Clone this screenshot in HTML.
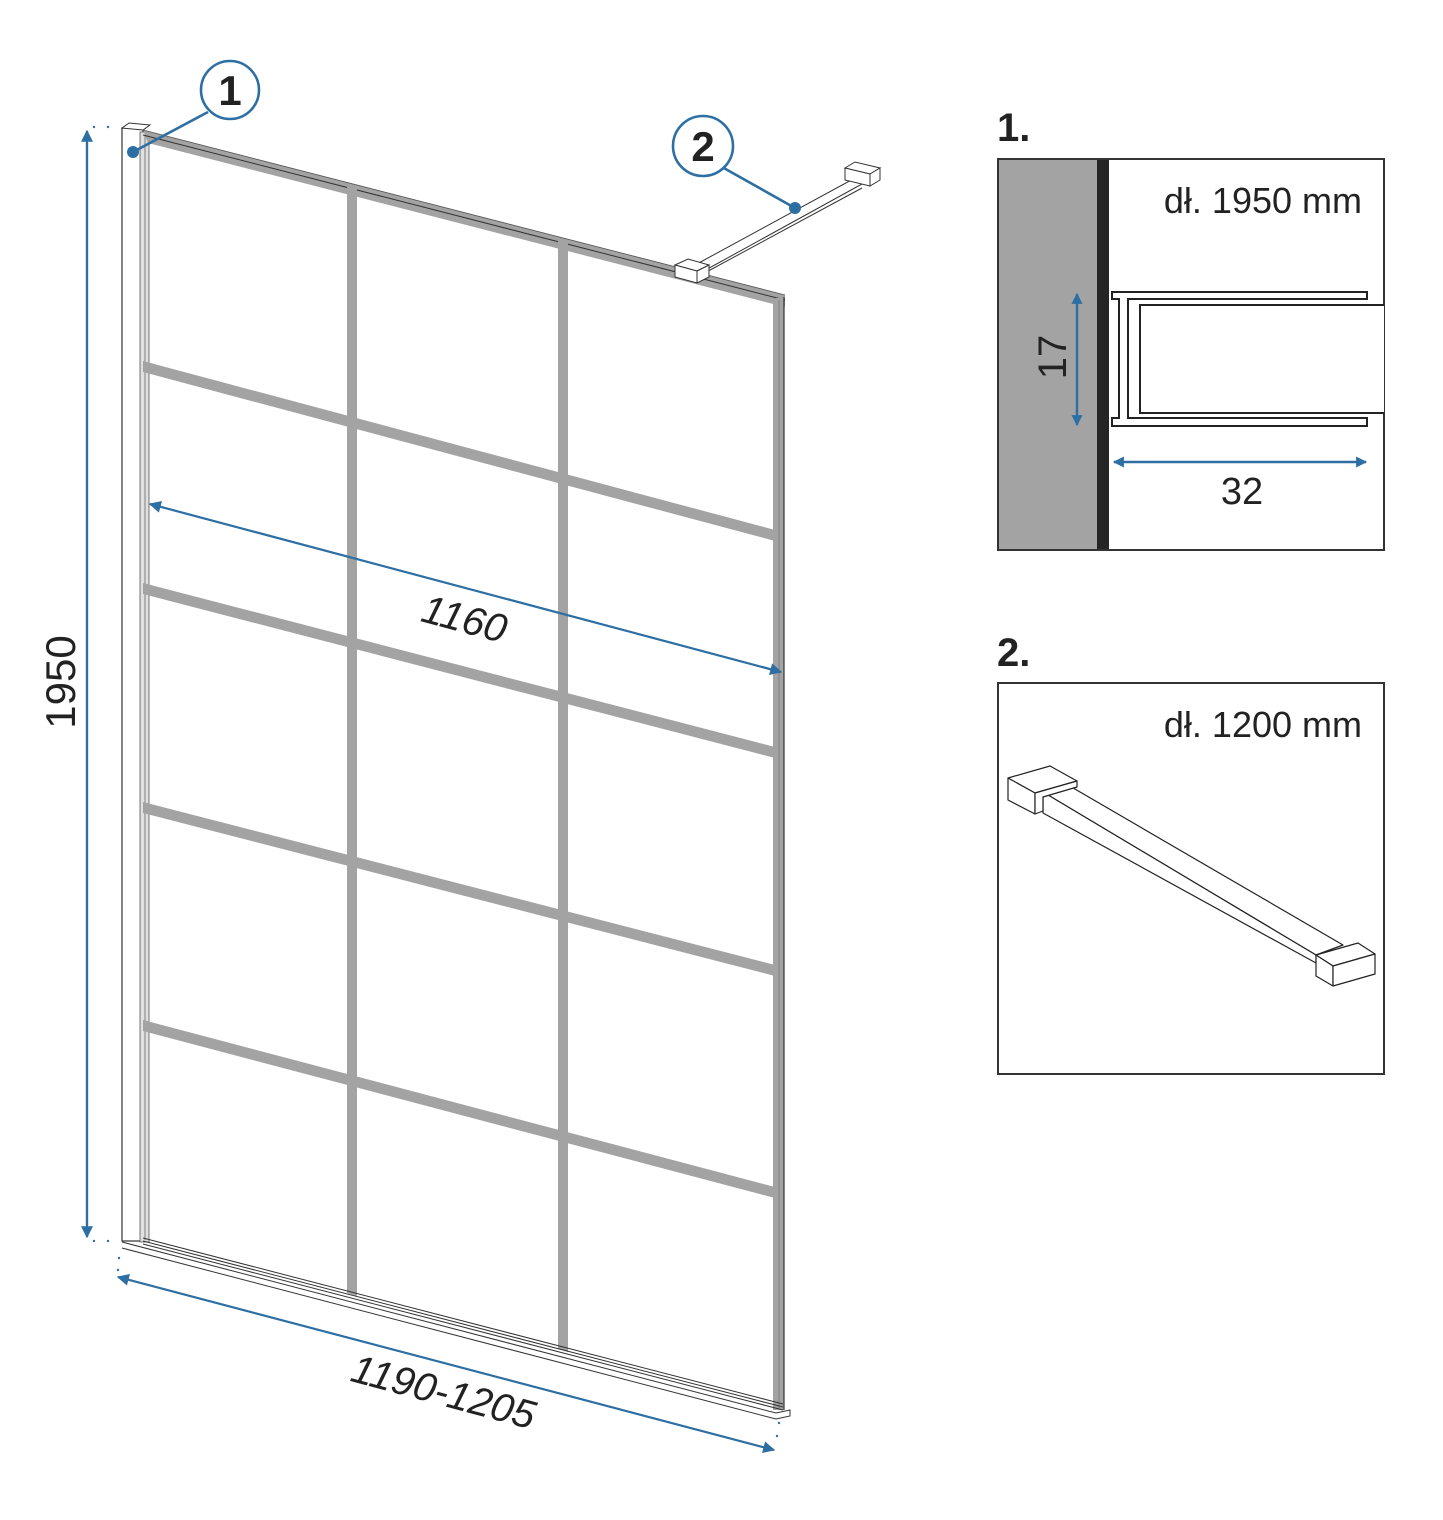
<!DOCTYPE html>
<html><head><meta charset="utf-8"><style>
html,body{margin:0;padding:0;background:#fff;}
svg{display:block;}
text{font-family:"Liberation Sans",sans-serif;fill:#222;}
</style></head><body>
<svg width="1443" height="1520" viewBox="0 0 1443 1520" xmlns="http://www.w3.org/2000/svg">
<defs>
<marker id="ah" viewBox="0 0 10 10" refX="9" refY="5" markerWidth="16" markerHeight="11" orient="auto-start-reverse" markerUnits="userSpaceOnUse">
<path d="M0,0 L10,5 L0,10 z" fill="#2e6fa3"/>
</marker>
<marker id="ah2" viewBox="0 0 10 10" refX="9" refY="5" markerWidth="22" markerHeight="12" orient="auto-start-reverse" markerUnits="userSpaceOnUse">
<path d="M0,0 L10,5 L0,10 z" fill="#2e6fa3"/>
</marker>
</defs>

<!-- wall profile -->
<rect x="122" y="128" width="21" height="1113" fill="#fff" stroke="#333" stroke-width="1.2"/>
<polygon points="122,128 129,123 150,125 143,130" fill="#fff" stroke="#333" stroke-width="1"/>
<rect x="140" y="132" width="9" height="1110" fill="#e0e0e0" stroke="#555" stroke-width="0.8"/>
<line x1="145" y1="135" x2="145" y2="1240" stroke="#666" stroke-width="0.8"/>

<!-- top frame -->
<polygon points="143,130 785,295 785,307 148,143" fill="#a3a3a3"/>
<line x1="143" y1="135" x2="785" y2="300" stroke="#333" stroke-width="1"/>
<line x1="143" y1="130" x2="785" y2="295" stroke="#555" stroke-width="0.8"/>
<!-- right frame -->
<rect x="773" y="298" width="11" height="1112" fill="#a3a3a3"/>
<line x1="784" y1="297" x2="784" y2="1410" stroke="#333" stroke-width="1.2"/>
<line x1="779" y1="300" x2="779" y2="1408" stroke="#777" stroke-width="0.8"/>

<!-- vertical bars -->
<polygon points="347,184 357,187 357,1296 347,1293" fill="#a3a3a3"/>
<polygon points="558,239 568,241 568,1352 558,1349" fill="#a3a3a3"/>

<!-- horizontal bars -->
<g fill="#a3a3a3">
<polygon points="143,361 775,530 775,541 143,372"/>
<polygon points="143,583 775,747 775,758 143,594"/>
<polygon points="143,802 775,965 775,976 143,813"/>
<polygon points="143,1020 775,1187 775,1198 143,1031"/>
</g>

<!-- bottom track -->
<g stroke="#333" stroke-width="1" fill="none">
<line x1="143" y1="1238" x2="783" y2="1404"/>
<line x1="143" y1="1241" x2="783" y2="1407"/>
<line x1="143" y1="1244" x2="783" y2="1410"/>
<line x1="122" y1="1242" x2="776" y2="1413"/>
<line x1="122" y1="1248" x2="776" y2="1419"/>
<polyline points="776,1413 790,1410 790,1416 776,1419"/>
</g>

<!-- stabilizer bar on panel -->
<g stroke="#333" stroke-width="1" fill="#fff">
<polygon points="695,265 855,178 862,184 702,272"/>
<line x1="699" y1="276" x2="862" y2="188"/>
<polygon points="845,168 855,162 880,168 870,174"/>
<polygon points="845,168 870,174 870,186 845,180"/>
<polygon points="870,174 880,168 880,180 870,186"/>
<polygon points="675,265 688,259 709,265 697,271"/>
<polygon points="675,265 697,271 697,283 675,277"/>
<polygon points="697,271 709,265 709,277 697,283"/>
</g>

<!-- dimension arrows -->
<g stroke="#2e6fa3" stroke-width="2.2" fill="none">
<line x1="87" y1="1237" x2="87" y2="131" marker-end="url(#ah2)"/>
<line x1="87" y1="131" x2="87" y2="1237" marker-end="url(#ah2)"/>
<line x1="150" y1="504" x2="781" y2="672" marker-end="url(#ah2)" marker-start="url(#ah2)"/>
<line x1="118" y1="1277" x2="774" y2="1450" marker-end="url(#ah2)" marker-start="url(#ah2)"/>
</g>
<g fill="#2e6fa3">
<circle cx="94" cy="127" r="1.2"/><circle cx="108" cy="127" r="1.2"/>
<circle cx="94" cy="1241" r="1.2"/><circle cx="108" cy="1241" r="1.2"/>
<circle cx="119" cy="1258" r="1.2"/><circle cx="118" cy="1270" r="1.2"/>
<circle cx="779" cy="1423" r="1.2"/><circle cx="777" cy="1436" r="1.2"/>
</g>
<text x="0" y="0" font-size="42" transform="translate(75,682) rotate(-90)" text-anchor="middle">1950</text>
<text x="0" y="0" font-size="40" font-style="italic" transform="translate(461,632) rotate(15)" text-anchor="middle">1160</text>
<text x="0" y="0" font-size="40" font-style="italic" transform="translate(440,1405) rotate(15)" text-anchor="middle">1190-1205</text>

<!-- callouts -->
<g stroke="#2e6fa3" stroke-width="2.6" fill="#fff">
<line x1="133" y1="152" x2="208" y2="112"/>
<circle cx="230" cy="90" r="29"/>
<line x1="795" y1="208" x2="722" y2="167"/>
<circle cx="703" cy="146" r="30"/>
</g>
<circle cx="133" cy="152" r="6" fill="#2e6fa3"/>
<circle cx="795" cy="208" r="6" fill="#2e6fa3"/>
<text x="230" y="105" font-size="42" font-weight="bold" text-anchor="middle">1</text>
<text x="703" y="161" font-size="42" font-weight="bold" text-anchor="middle">2</text>

<!-- detail 1 -->
<text x="997" y="141" font-size="40" font-weight="bold">1.</text>
<rect x="998" y="159" width="386" height="391" fill="#fff" stroke="#333" stroke-width="2"/>
<rect x="999" y="160" width="98" height="389" fill="#a2a3a2"/>
<rect x="1097" y="160" width="12" height="389" fill="#252525"/>
<text x="1362" y="213" font-size="36" text-anchor="end">dł. 1950 mm</text>
<g stroke="#222" stroke-width="2" fill="#fff">
<path d="M1112,292 L1367,292 L1367,299 L1128,299 L1128,418 L1367,418 L1367,426 L1112,426 L1112,418 L1119,418 L1119,299 L1112,299 Z"/>
<path d="M1384,305 L1140,305 L1140,413 L1384,413" fill="#fff"/>
</g>
<g stroke="#2e6fa3" stroke-width="2.4" fill="none">
<line x1="1077" y1="294" x2="1077" y2="425" marker-end="url(#ah)" marker-start="url(#ah)"/>
<line x1="1114" y1="462" x2="1366" y2="462" marker-end="url(#ah)" marker-start="url(#ah)"/>
</g>
<text x="0" y="0" font-size="40" transform="translate(1066,357) rotate(-90)" text-anchor="middle">17</text>
<text x="1242" y="504" font-size="38" text-anchor="middle">32</text>

<!-- detail 2 -->
<text x="997" y="666" font-size="40" font-weight="bold">2.</text>
<rect x="998" y="683" width="386" height="391" fill="#fff" stroke="#333" stroke-width="2"/>
<text x="1362" y="737" font-size="36" text-anchor="end">dł. 1200 mm</text>
<g stroke="#222" stroke-width="1.2" fill="#fff" stroke-linejoin="round">
<polygon points="1043,792 1068,785 1343,945 1316,955"/>
<polygon points="1043,792 1316,955 1316,963 1043,813"/>
<polygon points="1008,778 1050,766 1077,781 1035,793"/>
<polygon points="1008,778 1035,793 1035,814 1008,800"/>
<polygon points="1035,793 1077,781 1077,787 1043,797 1043,811 1035,814"/>
<polygon points="1316,955 1358,943 1375,954 1333,966"/>
<polygon points="1316,955 1333,966 1333,986 1316,976"/>
<polygon points="1333,966 1375,954 1375,974 1333,986"/>
</g>
</svg>
</body></html>
